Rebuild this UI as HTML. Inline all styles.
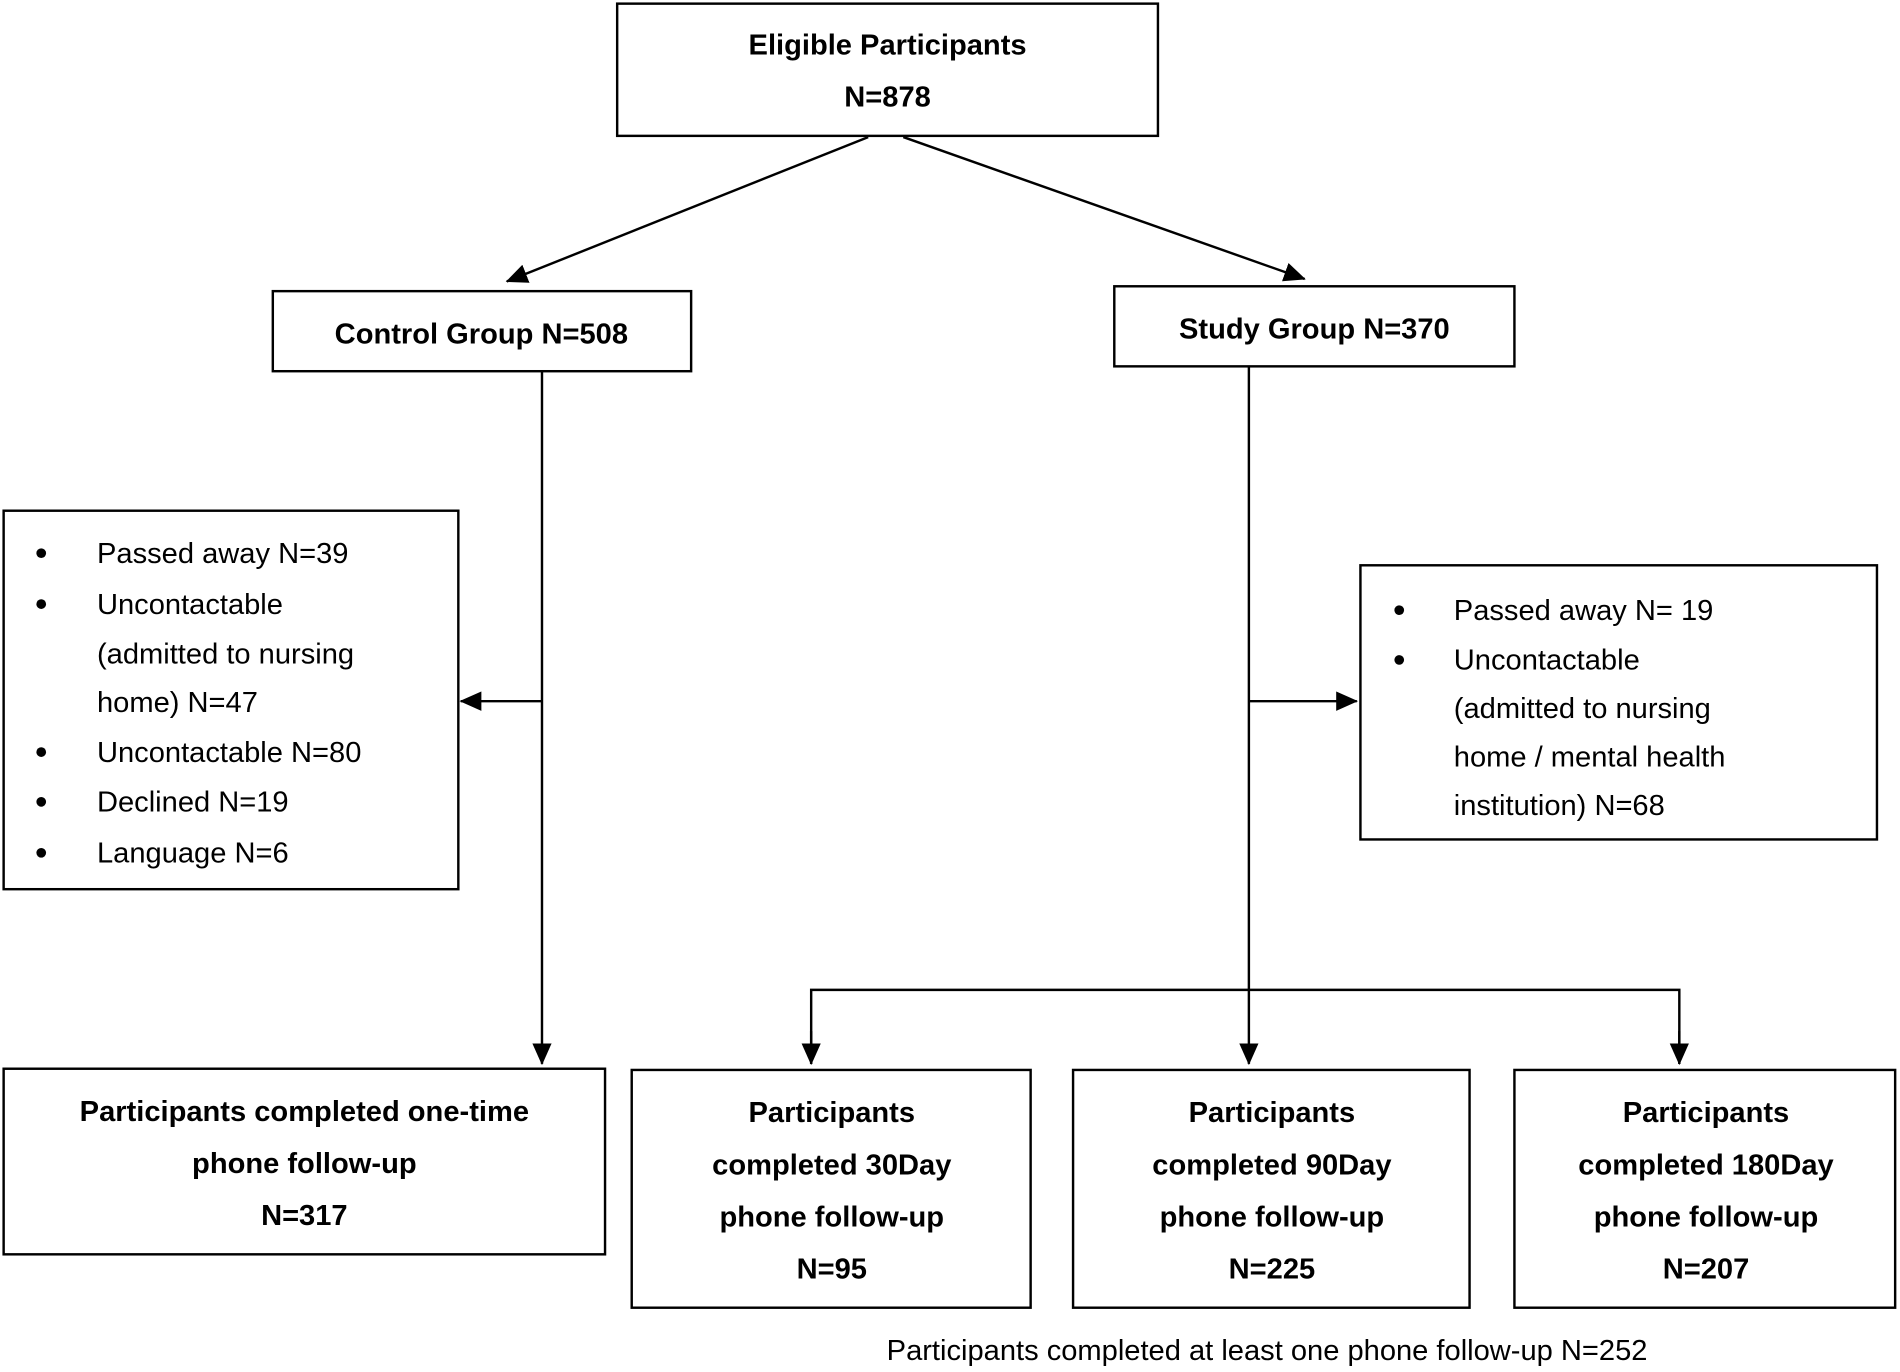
<!DOCTYPE html>
<html><head><meta charset="utf-8"><style>
html,body{margin:0;padding:0;background:#fff;}
svg{display:block;}
text{font-family:"Liberation Sans",sans-serif;fill:#000;}
.b{font-weight:bold;font-size:24px;}
.r{font-size:24px;}
</style></head><body>
<svg width="1900" height="1372" viewBox="0 0 1567 1131" preserveAspectRatio="none" xmlns="http://www.w3.org/2000/svg">
<defs><marker id="a" markerWidth="10" markerHeight="10" refX="9" refY="5" orient="auto" markerUnits="userSpaceOnUse" viewBox="0 0 10 10"><path d="M0,0 L10,5 L0,10 z" fill="#000"/></marker>
<marker id="m" markerWidth="18" markerHeight="16" refX="17" refY="8" orient="auto" markerUnits="userSpaceOnUse"><path d="M0,0 L18,8 L0,16 z" fill="#000"/></marker></defs>
<g fill="none" stroke="#000" stroke-width="2">
<rect x="509" y="3" width="446" height="109"/>
<rect x="225" y="240" width="345" height="66"/>
<rect x="919" y="236" width="330" height="66"/>
<rect x="3" y="421" width="375" height="312"/>
<rect x="1122" y="466" width="426" height="226"/>
<rect x="3" y="881" width="496" height="153"/>
<rect x="521" y="882" width="329" height="196"/>
<rect x="885" y="882" width="327" height="196"/>
<rect x="1249" y="882" width="314" height="196"/>
<line x1="716" y1="113" x2="418" y2="232" marker-end="url(#m)"/>
<line x1="745" y1="113" x2="1076" y2="230" marker-end="url(#m)"/>
<line x1="447" y1="306" x2="447" y2="877" marker-end="url(#m)"/>
<line x1="447" y1="578" x2="380" y2="578" marker-end="url(#m)"/>
<line x1="1030" y1="302" x2="1030" y2="877" marker-end="url(#m)"/>
<line x1="1030" y1="578" x2="1119" y2="578" marker-end="url(#m)"/>
<polyline points="669,877 669,816 1385,816 1385,877"/>
<line x1="669" y1="850" x2="669" y2="877" marker-end="url(#m)"/>
<line x1="1385" y1="850" x2="1385" y2="877" marker-end="url(#m)"/>
</g>
<g text-anchor="middle" class="b">
<text x="732" y="45">Eligible Participants</text>
<text x="732" y="88">N=878</text>
<text x="397" y="283">Control Group N=508</text>
<text x="1084" y="279">Study Group N=370</text>
<text x="251" y="924">Participants completed one-time</text>
<text x="251" y="967">phone follow-up</text>
<text x="251" y="1010">N=317</text>
<text x="686" y="925">Participants</text>
<text x="686" y="968">completed 30Day</text>
<text x="686" y="1011">phone follow-up</text>
<text x="686" y="1054">N=95</text>
<text x="1049" y="925">Participants</text>
<text x="1049" y="968">completed 90Day</text>
<text x="1049" y="1011">phone follow-up</text>
<text x="1049" y="1054">N=225</text>
<text x="1407" y="925">Participants</text>
<text x="1407" y="968">completed 180Day</text>
<text x="1407" y="1011">phone follow-up</text>
<text x="1407" y="1054">N=207</text>
</g>
<g class="r">
<text x="80" y="464">Passed away N=39</text>
<text x="80" y="506">Uncontactable</text>
<text x="80" y="547">(admitted to nursing</text>
<text x="80" y="587">home) N=47</text>
<text x="80" y="628">Uncontactable N=80</text>
<text x="80" y="669">Declined N=19</text>
<text x="80" y="711">Language N=6</text>
<text x="1199" y="511">Passed away N= 19</text>
<text x="1199" y="552">Uncontactable</text>
<text x="1199" y="592">(admitted to nursing</text>
<text x="1199" y="632">home / mental health</text>
<text x="1199" y="672">institution) N=68</text>
<text x="1045" y="1121" text-anchor="middle">Participants completed at least one phone follow-up N=252</text>
</g>
<g fill="#000">
<circle cx="34" cy="456" r="4"/><circle cx="34" cy="498" r="4"/><circle cx="34" cy="620" r="4"/><circle cx="34" cy="661" r="4"/><circle cx="34" cy="703" r="4"/>
<circle cx="1154" cy="503" r="4"/><circle cx="1154" cy="544" r="4"/>
</g>
</svg>
</body></html>
